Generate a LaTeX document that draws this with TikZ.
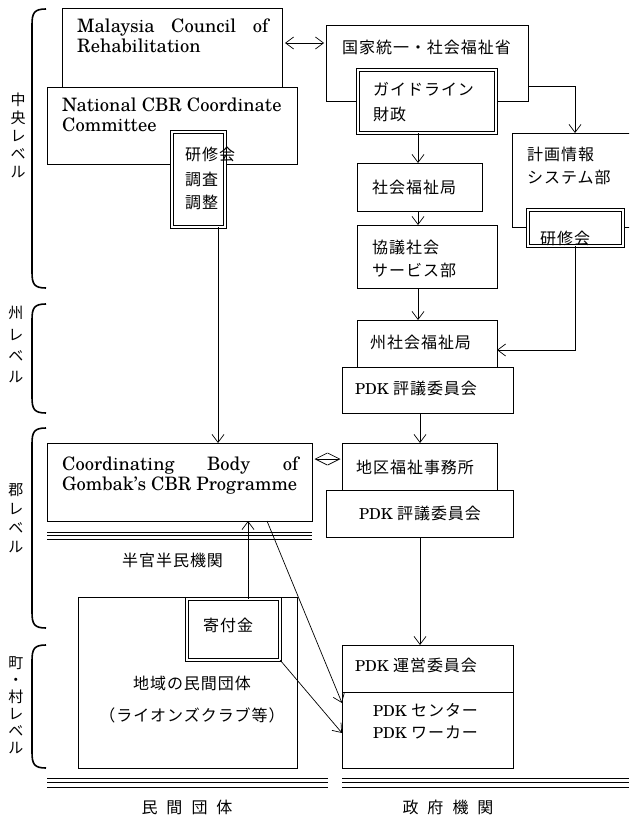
\documentclass[tikz,border=0pt]{standalone}
\usepackage{fontspec}
\newfontfamily\jpfont[LetterSpace=6]{Noto Sans CJK JP}
\newfontfamily\enfont{texgyreschola-regular.otf}
\usetikzlibrary{arrows.meta}
\newcommand\jsk[1]{\jpfont\fontsize{16}{#1}\selectfont}
\newcommand\vsk[1]{\jpfont\fontsize{15}{#1}\selectfont}
\newcommand\ensk[1]{\enfont\fontsize{18.5}{#1}\selectfont}
\newcommand\pdk{{\enfont\fontsize{15}{15}\selectfont PDK}}
\newcommand\mkbox[6][box]{\node[#1,minimum width={#4-#2},minimum height={#5-#3}] (#6) at (#2,#3) {};}
\newcommand\lvbrace[2]{\draw[bracel] (46,#1) .. controls (34,#1) and (32,#1+4) .. (32,#1+16) -- (32,#2-16) .. controls (32,#2-4) and (34,#2) .. (46,#2);}
\begin{document}
\begin{tikzpicture}[x=1pt,y=-1pt,
  box/.style={draw,line width=0.8pt,fill=white,inner sep=0pt,outer sep=0pt,anchor=north west},
  dbox/.style={box,line width=1pt,double,double distance=1.6pt},
  txt/.style={inner sep=0pt,anchor=base west,align=left},
  jt/.style={txt,font=\jsk{24}},
  et/.style={txt,font=\ensk{20}},
  vl/.style={inner sep=0pt,anchor=base,align=center},
  conn/.style={line width=0.7pt},
  arr/.style={conn,-{Straight Barb[length=8pt,width=12pt]}},
  darr/.style={conn,{Straight Barb[length=8pt,width=12pt]}-{Straight Barb[length=8pt,width=12pt]}},
  darrb/.style={conn,{Straight Barb[length=12pt,width=12pt]}-{Straight Barb[length=12pt,width=12pt]}},
  bracel/.style={line width=1.6pt},
  rulethin/.style={line width=0.7pt},
  rulethick/.style={line width=1.5pt}
]
\useasboundingbox (0,0) rectangle (629,818);
\clip (0,0) rectangle (629,818);

% boxes
\mkbox{62}{8}{282}{87}{mcr}
\mkbox{47}{87}{297}{164}{ncc}
\mkbox[dbox]{171.8}{131.8}{225.2}{227.2}{ken1}
\mkbox{326}{25}{528}{101}{min}
\mkbox[dbox]{357.8}{69.8}{496.2}{133.2}{guide}
\mkbox{357}{163}{482}{211}{swd}
\mkbox{357}{225}{497}{288}{kyogi}
\mkbox{512}{133}{645}{227}{plan}
\mkbox[dbox]{527.8}{209.8}{623.2}{246.2}{ken2}
\mkbox{357}{320}{497}{367}{sswd}
\mkbox{342}{367}{513}{413}{pdks}
\mkbox{342}{443}{497}{490}{dwo}
\mkbox{326}{490}{513}{537}{pdkd}
\mkbox{47}{443}{312}{521}{cbg}
\mkbox{78}{597}{297}{768}{ngo}
\mkbox[dbox]{186.8}{598.8}{280.2}{660.2}{kifu}
\mkbox{342}{645}{513}{692}{pdkm}
\mkbox{342}{692}{513}{768}{pdkc}

% helper coordinates
\coordinate (xa) at (218,0);
\coordinate (xb) at (418,0);
\coordinate (xc) at (420,0);
\coordinate (xd) at (575,0);
\coordinate (xe) at (248,0);
\coordinate (xf) at (267,0);
\coordinate (ya) at (0,43);
\coordinate (yb) at (0,86);
\coordinate (yc) at (0,350);
\coordinate (yd) at (0,459);
\coordinate (ye) at (0,703);
\coordinate (yf) at (0,733);

% connectors
\draw[darr,shorten <=3pt,shorten >=2pt] (mcr.east |- ya) -- (min.west |- ya);
\draw[arr] (ken1.south -| xa) -- (cbg.north -| xa);
\draw[arr] (guide.south -| xb) -- (swd.north -| xb);
\draw[arr] (swd.south -| xb) -- (kyogi.north -| xb);
\draw[arr] (kyogi.south -| xb) -- (sswd.north -| xb);
\draw[arr] (min.east |- yb) -| (plan.north -| xd);
\draw[arr] (ken2.south -| xd) |- (sswd.east |- yc);
\draw[arr] (pdks.south -| xc) -- (dwo.north -| xc);
\draw[arr] (pdkd.south -| xc) -- (pdkm.north -| xc);
\draw[darrb,shorten <=2.5pt,shorten >=1.5pt] (cbg.east |- yd) -- (dwo.west |- yd);
\draw[arr] (kifu.north -| xe) -- (cbg.south -| xe);
\draw[arr] (cbg.south -| xf) -- (pdkc.west |- ye);
\draw[arr] (kifu.south east) -- (pdkc.west |- yf);

% rules
\draw[rulethin] (47,532) -- (312,532);
\draw[rulethick] (47,535.5) -- (312,535.5);
\draw[rulethin] (47,539) -- (312,539);
\draw[rulethin] (47,778) -- (328,778);
\draw[rulethick] (47,782.5) -- (328,782.5);
\draw[rulethin] (47,787) -- (328,787);
\draw[rulethin] (342,778) -- (629,778);
\draw[rulethick] (342,782.5) -- (629,782.5);
\draw[rulethin] (342,787) -- (629,787);

% braces
\lvbrace{9}{288}
\lvbrace{304}{413}
\lvbrace{428}{628}
\lvbrace{645}{768}

% level labels (anchor base = last line)
\node[vl,font=\vsk{18}] (l1) at (18,177.7) {中\\央\\レ\\ベ\\ル};
\node[vl,font=\vsk{21.3}] (l2) at (16,382.6) {州\\レ\\ベ\\ル};
\node[vl,font=\vsk{19}] (l3) at (16,552.7) {郡\\レ\\ベ\\ル};
\node[vl,font=\vsk{17}] (l4) at (16,753.7) {町\\・\\村\\レ\\ベ\\ル};

% texts (anchor base = last line)
\node[et] (t1) at (77,53) {\makebox[191pt][s]{Malaysia Council of}\\Rehabilitation};
\node[et] (t2) at (62,132) {National CBR Coordinate\\Committee};
\node[et] (t3) at (62,490) {\makebox[236pt][s]{Coordinating Body of}\\Gombak’s CBR Programme};
\node[jt] (t4) at (185,209) {研修会\\調査\\調整};
\node[jt] (t5) at (342,54) {国家統一・社会福祉省};
\node[jt,font=\jsk{25}] (t6) at (373,121) {ガイドライン\\財政};
\node[jt] (t7) at (372,194) {社会福祉局};
\node[jt,font=\jsk{23}] (t8) at (372,276) {協議社会\\サービス部};
\node[jt,font=\jsk{23}] (t9) at (527,184) {計画情報\\システム部};
\node[jt] (t10) at (540,244) {研修会};
\node[jt] (t11) at (370,348) {州社会福祉局};
\node[jt] (t12) at (355,394) {\pdk\ 評議委員会};
\node[jt] (t13) at (356,473) {地区福祉事務所};
\node[jt] (t14) at (359,519) {\pdk\ 評議委員会};
\node[jt] (t15) at (122,566) {半官半民機関};
\node[jt] (t16) at (203,631) {寄付金};
\node[jt,align=center,anchor=base,font=\jsk{32}] (t17) at (192,721) {地域の民間団体\\（ライオンズクラブ等）};
\node[jt] (t18) at (355,671) {\pdk\ 運営委員会};
\node[jt,font=\jsk{22}] (t19) at (373,738) {\pdk\ センター\\\pdk\ ワーカー};
\node[jt,anchor=base] (t20) at (187,813) {民\hspace{9pt}間\hspace{9pt}団\hspace{9pt}体};
\node[jt,anchor=base] (t21) at (448,813) {政\hspace{9pt}府\hspace{9pt}機\hspace{9pt}関};
\end{tikzpicture}
\end{document}
